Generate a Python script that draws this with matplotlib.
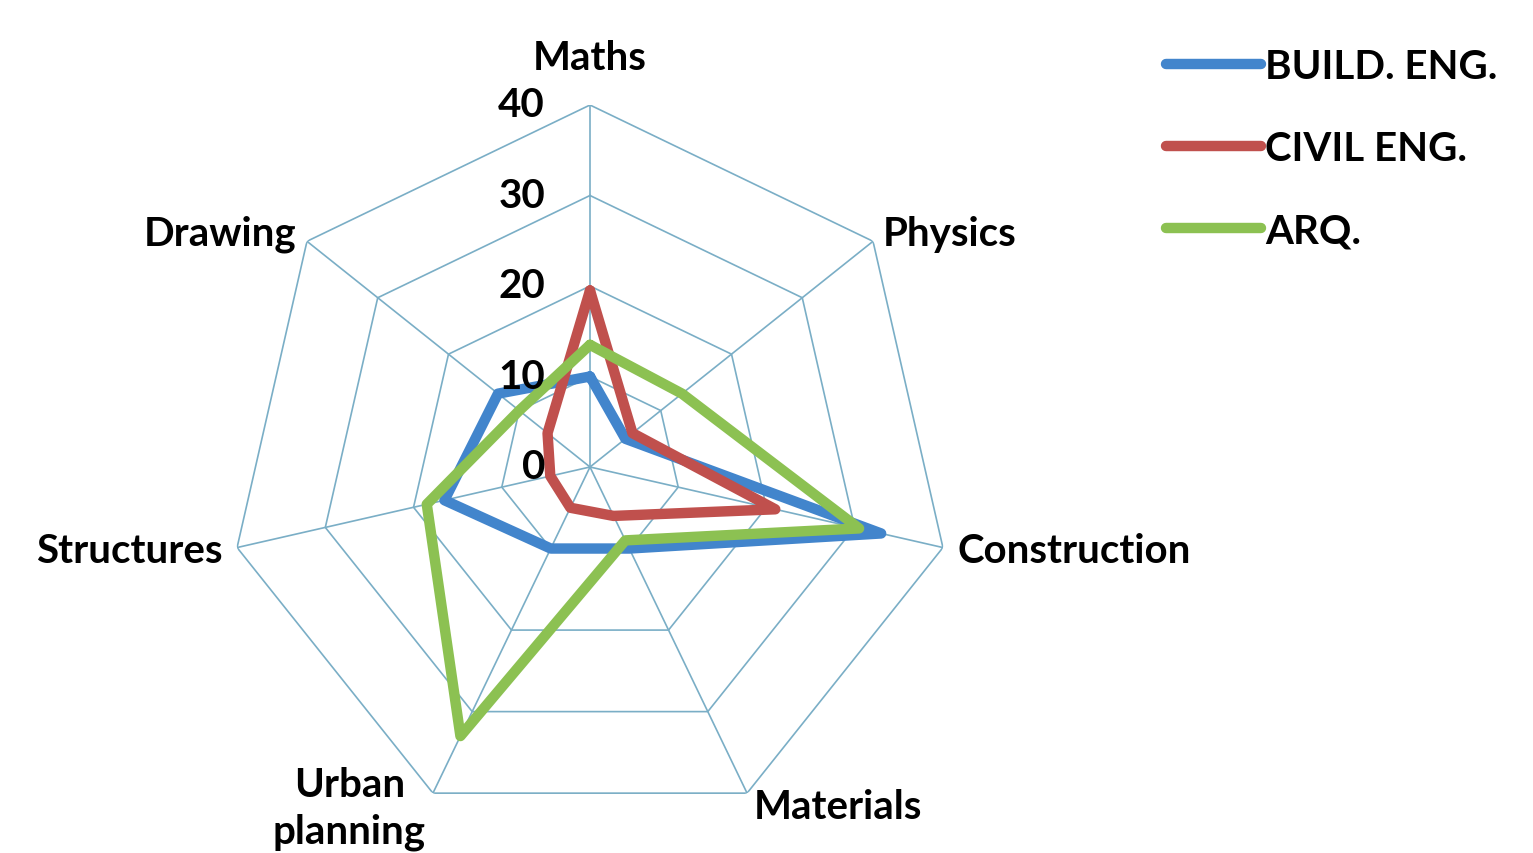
import numpy as np
import matplotlib
matplotlib.use('Agg')
import matplotlib.pyplot as plt

# categories, clockwise from the top
categories = ['Maths', 'Physics', 'Construction', 'Materials',
              'Urban\nplanning', 'Structures', 'Drawing']
series_names = ['BUILD. ENG.', 'CIVIL ENG.', 'ARQ.']
build_eng = [10, 5, 33, 10, 10, 16.5, 13]
civil_eng = [19.5, 6, 21, 6, 5, 4.5, 6]
arq = [13.5, 13, 30.5, 9, 33, 18.5, 10]
ring_levels = [10, 20, 30, 40]
tick_labels = ['0', '10', '20', '30', '40']

colors = ['#4285cc', '#c0504d', '#8cc152']
grid_color = '#7aaec6'

plt.rcParams['font.family'] = ['Lato', 'DejaVu Sans']
plt.rcParams['font.weight'] = 'bold'
fs = 29

fig = plt.figure(figsize=(15.33, 8.54), dpi=100)
# centre of the web at (590, 468) px, radius 362 px
cx, cy, rad = 590, 468, 362
W, H = 1533, 854
ax = fig.add_axes([(cx - rad) / W, (H - cy - rad) / H, 2 * rad / W, 2 * rad / H],
                  projection='polar')
ax.set_theta_zero_location('N')
ax.set_theta_direction(-1)
ax.set_ylim(0, 40)
ax.grid(False)
ax.spines['polar'].set_visible(False)
ax.set_xticks([])
ax.set_yticks([])
ax.patch.set_alpha(0)

n = len(categories)
theta = np.linspace(0, 2 * np.pi, n, endpoint=False)
theta_c = np.append(theta, theta[0])

# heptagon web
for lev in ring_levels:
    ax.plot(theta_c, [lev] * (n + 1), color=grid_color, lw=1.2, zorder=1)
for t in theta:
    ax.plot([t, t], [0, 40], color=grid_color, lw=1.2, zorder=1)

for vals, name, c in zip([build_eng, civil_eng, arq], series_names, colors):
    v = list(vals) + [vals[0]]
    ax.plot(theta_c, v, color=c, lw=7.5, label=name, zorder=3,
            solid_joinstyle='round', solid_capstyle='round')

# radial tick labels, left of the top spoke
for i, lab in enumerate(tick_labels):
    ax.annotate(lab, xy=(0, i * 10), xytext=(-45, 0), textcoords='offset pixels',
                ha='right', va='center', fontsize=fs, fontweight='bold', zorder=4,
                annotation_clip=False)

# category labels
label_pos = [(45.3, 'center'), (41.4, 'left'), (41.6, 'left'), (41.6, 'left'),
             (41.8, 'right'), (41.6, 'right'), (41.5, 'right')]
for t, lab, (r, ha) in zip(theta, categories, label_pos):
    ax.text(t, r, lab, ha=ha, va='center', fontsize=fs, fontweight='bold',
            multialignment='center', linespacing=1.3)

fig.legend(loc='upper left', bbox_to_anchor=(1166 / W, 1 - 49 / H),
           frameon=False, fontsize=fs, handlelength=2.35, handletextpad=0.12,
           labelspacing=1.12, borderaxespad=0, borderpad=0)

fig.savefig('out.png', dpi=100, facecolor='white')
